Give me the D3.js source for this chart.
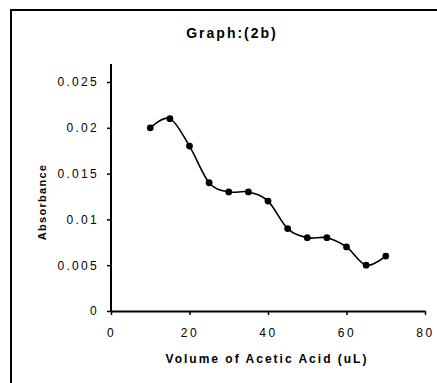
<!DOCTYPE html>
<html>
<head>
<meta charset="utf-8">
<script src="https://cdn.jsdelivr.net/npm/d3@7"></script>
<style>
  body { margin: 0; background: #fff; }
  svg { display: block; font-family: "Liberation Sans", Arial, sans-serif; }
</style>
</head>
<body>
<div id="chart"></div>
<script>
// data
var volumes = [10, 15, 20, 25, 30, 35, 40, 45, 50, 55, 60, 65, 70];
var absorbance = [0.020, 0.021, 0.018, 0.014, 0.013, 0.013, 0.012, 0.009, 0.008, 0.008, 0.007, 0.005, 0.006];
var xTicks = [0, 20, 40, 60, 80];
var yTicks = [0, 0.005, 0.01, 0.015, 0.02, 0.025];
var yTickLabels = ["0", "0.005", "0.01", "0.015", "0.02", "0.025"];

var W = 437, H = 383;
var svg = d3.select("#chart").append("svg")
  .attr("width", W).attr("height", H);

svg.append("rect").attr("width", W).attr("height", H).style("fill", "#fff");

// outer frame (only top and left edges show in the scan)
svg.append("path")
  .attr("d", "M11," + H + "V10H" + W)
  .style("fill", "none").style("stroke", "#000").style("stroke-width", 2);

var x = d3.scaleLinear().domain([0, 80]).range([111, 425]);
var y = d3.scaleLinear().domain([0, 0.025]).range([311, 82]);

// title
svg.append("text")
  .attr("x", 232).attr("y", 38)
  .attr("text-anchor", "middle")
  .style("font-size", "14px").style("font-weight", "bold")
  .style("letter-spacing", "2px")
  .text("Graph:(2b)");

// y axis
var yAxis = svg.append("g")
  .attr("transform", "translate(" + x(0) + ",0)")
  .call(d3.axisLeft(y).tickValues(yTicks)
    .tickFormat(function(d, i) { return yTickLabels[i]; })
    .tickSize(4).tickPadding(8).tickSizeOuter(0));
yAxis.select(".domain").remove();
yAxis.append("line")
  .attr("x1", 0).attr("x2", 0)
  .attr("y1", y(0)).attr("y2", 64)
  .style("stroke", "#000").style("stroke-width", 2);
yAxis.selectAll(".tick line").style("stroke-width", 1.5);
yAxis.selectAll(".tick text")
  .style("font-size", "12px").style("letter-spacing", "2.3px")
  .style("fill", "#000");

// x axis
var xAxis = svg.append("g")
  .attr("transform", "translate(0," + y(0) + ")")
  .call(d3.axisBottom(x).tickValues(xTicks)
    .tickSize(4).tickPadding(13).tickSizeOuter(0));
xAxis.select(".domain").style("stroke-width", 2);
xAxis.selectAll(".tick line").style("stroke-width", 1.5);
xAxis.selectAll(".tick text")
  .style("font-size", "12px").style("letter-spacing", "2.5px")
  .style("fill", "#000");

// axis titles
svg.append("text")
  .attr("x", 267).attr("y", 363)
  .attr("text-anchor", "middle")
  .style("font-size", "12px").style("font-weight", "bold")
  .style("letter-spacing", "2px")
  .text("Volume of Acetic Acid (uL)");

svg.append("text")
  .attr("transform", "translate(46,202) rotate(-90)")
  .attr("text-anchor", "middle")
  .style("font-size", "11px").style("font-weight", "bold")
  .style("letter-spacing", "1.3px")
  .text("Absorbance");

// smoothed series line
var pts = volumes.map(function(v, i) { return [v, absorbance[i]]; });
var line = d3.line()
  .x(function(d) { return x(d[0]); })
  .y(function(d) { return y(d[1]); })
  .curve(d3.curveCardinal.tension(0));

svg.append("path")
  .datum(pts)
  .attr("d", line)
  .style("fill", "none").style("stroke", "#000").style("stroke-width", 1.6);

// markers (blobby dots in the scan)
svg.selectAll(".pt")
  .data(pts)
  .enter().append("circle")
  .attr("class", "pt")
  .attr("cx", function(d) { return x(d[0]); })
  .attr("cy", function(d) { return y(d[1]); })
  .attr("r", 3.4)
  .style("fill", "#000");
</script>
</body>
</html>
